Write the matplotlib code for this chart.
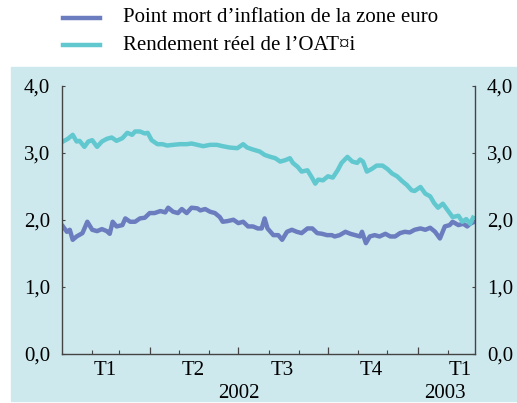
import matplotlib
matplotlib.use("Agg")
import matplotlib.pyplot as plt
from matplotlib.lines import Line2D
from matplotlib.patches import Rectangle

plt.rcParams['font.family'] = ['Liberation Serif', 'DejaVu Serif']

# days since 2002-01-01
oat_days = [1, 6, 11, 15, 18, 23, 27, 31, 36, 41, 46, 51, 56, 62, 67, 72, 75, 80, 85, 88,
            92, 98, 103, 108, 114, 121, 128, 133, 139, 145, 152, 159, 165, 172, 180, 186,
            190, 196, 203, 208, 214, 219, 224, 229, 234, 237, 242, 246, 252, 257, 260, 263,
            268, 273, 278, 283, 287, 293, 298, 303, 306, 309, 313, 318, 323, 329, 334, 339,
            344, 349, 354, 359, 362, 368, 373, 378, 382, 386, 391, 396, 401, 407, 411, 415,
            419, 422]
oat_vals = [3.17, 3.21, 3.27, 3.17, 3.18, 3.09, 3.17, 3.19, 3.09, 3.17, 3.21, 3.23, 3.18,
            3.22, 3.30, 3.27, 3.32, 3.32, 3.29, 3.30, 3.19, 3.13, 3.13, 3.11, 3.12, 3.13,
            3.13, 3.14, 3.12, 3.10, 3.12, 3.12, 3.10, 3.08, 3.07, 3.13, 3.08, 3.05, 3.02,
            2.97, 2.94, 2.92, 2.87, 2.89, 2.92, 2.85, 2.79, 2.72, 2.74, 2.62, 2.54, 2.60,
            2.59, 2.65, 2.63, 2.74, 2.85, 2.94, 2.87, 2.85, 2.90, 2.87, 2.72, 2.76, 2.81,
            2.81, 2.76, 2.69, 2.65, 2.58, 2.52, 2.44, 2.43, 2.49, 2.39, 2.35, 2.25, 2.18,
            2.24, 2.14, 2.04, 2.06, 1.97, 2.01, 1.94, 2.03]

pm_days = [1, 5, 8, 11, 15, 21, 26, 31, 36, 41, 46, 49, 52, 56, 62, 65, 70, 75, 80, 85,
           90, 95, 101, 106, 109, 114, 119, 123, 128, 133, 139, 142, 147, 152, 157, 162,
           165, 170, 176, 181, 186, 191, 196, 201, 205, 208, 211, 217, 222, 226, 231, 236,
           241, 246, 252, 257, 262, 267, 272, 277, 280, 285, 291, 296, 301, 306, 308, 312,
           316, 321, 326, 332, 337, 342, 347, 352, 357, 362, 368, 373, 378, 383, 388, 393,
           398, 401, 407, 412, 416, 419, 422]
pm_vals = [1.90, 1.82, 1.85, 1.70, 1.75, 1.80, 1.97, 1.85, 1.83, 1.86, 1.83, 1.79, 1.97,
           1.90, 1.92, 2.02, 1.97, 1.97, 2.02, 2.03, 2.10, 2.10, 2.13, 2.11, 2.18, 2.12,
           2.10, 2.16, 2.10, 2.18, 2.17, 2.14, 2.16, 2.12, 2.10, 2.04, 1.97, 1.98, 2.00,
           1.95, 1.97, 1.90, 1.90, 1.87, 1.87, 2.02, 1.87, 1.77, 1.77, 1.70, 1.82, 1.85,
           1.82, 1.80, 1.87, 1.87, 1.80, 1.79, 1.77, 1.77, 1.75, 1.77, 1.82, 1.79, 1.77,
           1.75, 1.82, 1.65, 1.75, 1.77, 1.75, 1.79, 1.75, 1.75, 1.80, 1.82, 1.81, 1.85,
           1.87, 1.85, 1.88, 1.82, 1.72, 1.90, 1.92, 1.97, 1.92, 1.94, 1.90, 1.94, 1.96]

month_starts = [31, 59, 120, 151, 212, 243, 304, 334, 396]
quarter_starts = [90, 181, 273, 365]
quarter_labels = ["T1", "T2", "T3", "T4", "T1"]
quarter_mids = [44, 135, 226, 318, 409]
year_labels = ["2002", "2003"]
year_pos = [182, 393]

labels = ["Point mort d\u2019inflation de la zone euro", "Rendement r\u00e9el de l\u2019OAT\u00a4i"]
col_pm = "#6b7dbf"
col_oat = "#62c8cf"
bg = "#cde9ee"
fs = 15

fig = plt.figure(figsize=(5.17, 4.03), dpi=100)
fig.add_artist(Rectangle((11 / 517, 2 / 403), 506 / 517, 334 / 403,
                         transform=fig.transFigure, color=bg, zorder=0))

ax = fig.add_axes([62 / 517, 49.5 / 403, 413 / 517, 267.5 / 403])
ax.set_facecolor("none")
ax.plot(pm_days, pm_vals, color=col_pm, lw=3.2)
ax.plot(oat_days, oat_vals, color=col_oat, lw=3.2)

ax.set_xlim(0, 424)
ax.set_ylim(0, 4)
for s in ["left", "right", "bottom"]:
    ax.spines[s].set_color("#444444")
    ax.spines[s].set_linewidth(1.0)
ax.spines["top"].set_visible(False)

ax.set_yticks([0, 1, 2, 3, 4])
ax.set_yticklabels(["0,0", "1,0", "2,0", "3,0", "4,0"])
ax.tick_params(axis="y", direction="in", length=2.5, width=0.8, color="#444444",
               labelsize=fs, pad=8.5, left=True, right=True, labelleft=True, labelright=True)

ax.set_xticks(quarter_starts)
ax.set_xticks(month_starts, minor=True)
ax.tick_params(axis="x", which="major", direction="in", length=5, width=0.9, color="#444444",
               labelbottom=False)
ax.tick_params(axis="x", which="minor", direction="in", length=3, width=0.8, color="#444444")

trans = ax.get_xaxis_transform()
for lab, x in zip(quarter_labels, quarter_mids):
    ax.text(x, -0.063, lab, transform=trans, ha="center", va="center", fontsize=fs)
for lab, x in zip(year_labels, year_pos):
    ax.text(x, -0.148, lab, transform=trans, ha="center", va="center", fontsize=fs)

# legend drawn by hand above the panel
for i, (lab, c) in enumerate(zip(labels, [col_pm, col_oat])):
    y = 1 - (18 + 27 * i) / 403
    fig.add_artist(Line2D([63 / 517, 100 / 517], [y, y], transform=fig.transFigure,
                          color=c, lw=3.2))
    fig.text(123 / 517, y, lab, ha="left", va="center", fontsize=fs)

fig.savefig("out.png", dpi=100)
